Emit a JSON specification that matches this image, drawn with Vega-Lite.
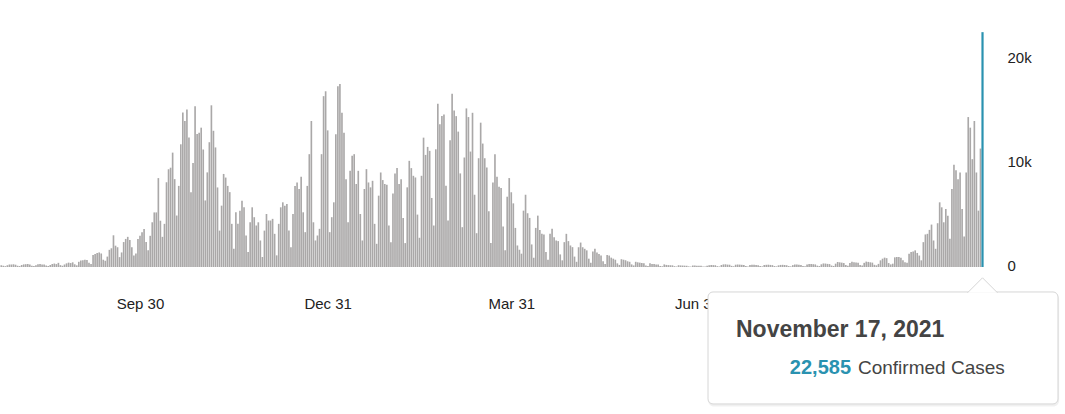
{
"$schema": "https://vega.github.io/schema/vega-lite/v6.json",
"width": 986, "height": 235,
"autosize": {"type": "none"},
"padding": {"left": 0, "top": 32, "right": 79, "bottom": 147},
"background": "white",
"config": {"view": {"stroke": null}, "font": "Liberation Sans"},
"datasets": {
"cases": [
{"date":"2020-07-24","cases":180},{"date":"2020-07-25","cases":110},{"date":"2020-07-26","cases":80},{"date":"2020-07-27","cases":170},{"date":"2020-07-28","cases":230},{"date":"2020-07-29","cases":240},{"date":"2020-07-30","cases":260},{"date":"2020-07-31","cases":220},
{"date":"2020-08-01","cases":120},{"date":"2020-08-02","cases":90},{"date":"2020-08-03","cases":190},{"date":"2020-08-04","cases":250},{"date":"2020-08-05","cases":270},{"date":"2020-08-06","cases":290},{"date":"2020-08-07","cases":230},{"date":"2020-08-08","cases":130},{"date":"2020-08-09","cases":90},{"date":"2020-08-10","cases":170},{"date":"2020-08-11","cases":260},{"date":"2020-08-12","cases":280},{"date":"2020-08-13","cases":250},{"date":"2020-08-14","cases":230},{"date":"2020-08-15","cases":150},{"date":"2020-08-16","cases":100},{"date":"2020-08-17","cases":190},{"date":"2020-08-18","cases":290},{"date":"2020-08-19","cases":330},{"date":"2020-08-20","cases":280},{"date":"2020-08-21","cases":400},{"date":"2020-08-22","cases":180},{"date":"2020-08-23","cases":120},{"date":"2020-08-24","cases":250},{"date":"2020-08-25","cases":350},{"date":"2020-08-26","cases":420},{"date":"2020-08-27","cases":380},{"date":"2020-08-28","cases":450},{"date":"2020-08-29","cases":260},{"date":"2020-08-30","cases":160},{"date":"2020-08-31","cases":500},
{"date":"2020-09-01","cases":620},{"date":"2020-09-02","cases":650},{"date":"2020-09-03","cases":700},{"date":"2020-09-04","cases":680},{"date":"2020-09-05","cases":420},{"date":"2020-09-06","cases":300},{"date":"2020-09-07","cases":1150},{"date":"2020-09-08","cases":1250},{"date":"2020-09-09","cases":1350},{"date":"2020-09-10","cases":1400},{"date":"2020-09-11","cases":1300},{"date":"2020-09-12","cases":700},{"date":"2020-09-13","cases":600},{"date":"2020-09-14","cases":1000},{"date":"2020-09-15","cases":1650},{"date":"2020-09-16","cases":1800},{"date":"2020-09-17","cases":3050},{"date":"2020-09-18","cases":2050},{"date":"2020-09-19","cases":1900},{"date":"2020-09-20","cases":950},{"date":"2020-09-21","cases":1400},{"date":"2020-09-22","cases":2400},{"date":"2020-09-23","cases":2700},{"date":"2020-09-24","cases":2900},{"date":"2020-09-25","cases":2600},{"date":"2020-09-26","cases":1900},{"date":"2020-09-27","cases":1100},{"date":"2020-09-28","cases":1300},{"date":"2020-09-29","cases":2700},{"date":"2020-09-30","cases":3000},
{"date":"2020-10-01","cases":3350},{"date":"2020-10-02","cases":3650},{"date":"2020-10-03","cases":2400},{"date":"2020-10-04","cases":1600},{"date":"2020-10-05","cases":3000},{"date":"2020-10-06","cases":4300},{"date":"2020-10-07","cases":5250},{"date":"2020-10-08","cases":5250},{"date":"2020-10-09","cases":8550},{"date":"2020-10-10","cases":4450},{"date":"2020-10-11","cases":2900},{"date":"2020-10-12","cases":4150},{"date":"2020-10-13","cases":8150},{"date":"2020-10-14","cases":9400},{"date":"2020-10-15","cases":9550},{"date":"2020-10-16","cases":11000},{"date":"2020-10-17","cases":8450},{"date":"2020-10-18","cases":4950},{"date":"2020-10-19","cases":7800},{"date":"2020-10-20","cases":11800},{"date":"2020-10-21","cases":14850},{"date":"2020-10-22","cases":14050},{"date":"2020-10-23","cases":15150},{"date":"2020-10-24","cases":12450},{"date":"2020-10-25","cases":7200},{"date":"2020-10-26","cases":10000},{"date":"2020-10-27","cases":15450},{"date":"2020-10-28","cases":12800},{"date":"2020-10-29","cases":12900},{"date":"2020-10-30","cases":13400},{"date":"2020-10-31","cases":11300},
{"date":"2020-11-01","cases":6400},{"date":"2020-11-02","cases":9100},{"date":"2020-11-03","cases":12000},{"date":"2020-11-04","cases":15550},{"date":"2020-11-05","cases":13100},{"date":"2020-11-06","cases":11500},{"date":"2020-11-07","cases":7650},{"date":"2020-11-08","cases":3500},{"date":"2020-11-09","cases":5900},{"date":"2020-11-10","cases":8950},{"date":"2020-11-11","cases":8600},{"date":"2020-11-12","cases":7800},{"date":"2020-11-13","cases":7200},{"date":"2020-11-14","cases":4150},{"date":"2020-11-15","cases":1750},{"date":"2020-11-16","cases":5260},{"date":"2020-11-17","cases":4150},{"date":"2020-11-18","cases":5420},{"date":"2020-11-19","cases":6380},{"date":"2020-11-20","cases":5740},{"date":"2020-11-21","cases":3030},{"date":"2020-11-22","cases":1440},{"date":"2020-11-23","cases":4300},{"date":"2020-11-24","cases":5740},{"date":"2020-11-25","cases":4790},{"date":"2020-11-26","cases":3990},{"date":"2020-11-27","cases":4300},{"date":"2020-11-28","cases":2550},{"date":"2020-11-29","cases":960},{"date":"2020-11-30","cases":3500},
{"date":"2020-12-01","cases":5100},{"date":"2020-12-02","cases":4470},{"date":"2020-12-03","cases":4470},{"date":"2020-12-04","cases":4630},{"date":"2020-12-05","cases":3190},{"date":"2020-12-06","cases":1120},{"date":"2020-12-07","cases":4150},{"date":"2020-12-08","cases":5740},{"date":"2020-12-09","cases":6220},{"date":"2020-12-10","cases":5900},{"date":"2020-12-11","cases":6060},{"date":"2020-12-12","cases":3500},{"date":"2020-12-13","cases":1910},{"date":"2020-12-14","cases":5100},{"date":"2020-12-15","cases":7800},{"date":"2020-12-16","cases":8130},{"date":"2020-12-17","cases":7500},{"date":"2020-12-18","cases":8680},{"date":"2020-12-19","cases":5260},{"date":"2020-12-20","cases":3350},{"date":"2020-12-21","cases":7800},{"date":"2020-12-22","cases":10850},{"date":"2020-12-23","cases":14040},{"date":"2020-12-24","cases":4300},{"date":"2020-12-25","cases":2550},{"date":"2020-12-26","cases":3030},{"date":"2020-12-27","cases":3670},{"date":"2020-12-28","cases":10850},{"date":"2020-12-29","cases":16430},{"date":"2020-12-30","cases":16900},{"date":"2020-12-31","cases":13140},
{"date":"2021-01-01","cases":3350},{"date":"2021-01-02","cases":4790},{"date":"2021-01-03","cases":6220},{"date":"2021-01-04","cases":12760},{"date":"2021-01-05","cases":17390},{"date":"2021-01-06","cases":17600},{"date":"2021-01-07","cases":14830},{"date":"2021-01-08","cases":12920},{"date":"2021-01-09","cases":8450},{"date":"2021-01-10","cases":4300},{"date":"2021-01-11","cases":9250},{"date":"2021-01-12","cases":10690},{"date":"2021-01-13","cases":10850},{"date":"2021-01-14","cases":7980},{"date":"2021-01-15","cases":9250},{"date":"2021-01-16","cases":5100},{"date":"2021-01-17","cases":2550},{"date":"2021-01-18","cases":7500},{"date":"2021-01-19","cases":9410},{"date":"2021-01-20","cases":8130},{"date":"2021-01-21","cases":7660},{"date":"2021-01-22","cases":8290},{"date":"2021-01-23","cases":4150},{"date":"2021-01-24","cases":2230},{"date":"2021-01-25","cases":6860},{"date":"2021-01-26","cases":9090},{"date":"2021-01-27","cases":8360},{"date":"2021-01-28","cases":7980},{"date":"2021-01-29","cases":7910},{"date":"2021-01-30","cases":3990},{"date":"2021-01-31","cases":2390},
{"date":"2021-02-01","cases":7080},{"date":"2021-02-02","cases":9000},{"date":"2021-02-03","cases":9510},{"date":"2021-02-04","cases":7980},{"date":"2021-02-05","cases":8450},{"date":"2021-02-06","cases":4720},{"date":"2021-02-07","cases":2300},{"date":"2021-02-08","cases":7660},{"date":"2021-02-09","cases":10210},{"date":"2021-02-10","cases":9510},{"date":"2021-02-11","cases":8770},{"date":"2021-02-12","cases":8610},{"date":"2021-02-13","cases":5040},{"date":"2021-02-14","cases":2810},{"date":"2021-02-15","cases":8770},{"date":"2021-02-16","cases":12440},{"date":"2021-02-17","cases":10780},{"date":"2021-02-18","cases":11550},{"date":"2021-02-19","cases":11170},{"date":"2021-02-20","cases":6640},{"date":"2021-02-21","cases":3990},{"date":"2021-02-22","cases":11320},{"date":"2021-02-23","cases":15690},{"date":"2021-02-24","cases":13720},{"date":"2021-02-25","cases":14510},{"date":"2021-02-26","cases":14670},{"date":"2021-02-27","cases":7820},{"date":"2021-02-28","cases":4470},
{"date":"2021-03-01","cases":12190},{"date":"2021-03-02","cases":16650},{"date":"2021-03-03","cases":15060},{"date":"2021-03-04","cases":14510},{"date":"2021-03-05","cases":13020},{"date":"2021-03-06","cases":9000},{"date":"2021-03-07","cases":3830},{"date":"2021-03-08","cases":10530},{"date":"2021-03-09","cases":15250},{"date":"2021-03-10","cases":14420},{"date":"2021-03-11","cases":11100},{"date":"2021-03-12","cases":14830},{"date":"2021-03-13","cases":6950},{"date":"2021-03-14","cases":3250},{"date":"2021-03-15","cases":10460},{"date":"2021-03-16","cases":13880},{"date":"2021-03-17","cases":11870},{"date":"2021-03-18","cases":10460},{"date":"2021-03-19","cases":9570},{"date":"2021-03-20","cases":5360},{"date":"2021-03-21","cases":2300},{"date":"2021-03-22","cases":8130},{"date":"2021-03-23","cases":10850},{"date":"2021-03-24","cases":8680},{"date":"2021-03-25","cases":7720},{"date":"2021-03-26","cases":7590},{"date":"2021-03-27","cases":3890},{"date":"2021-03-28","cases":1600},{"date":"2021-03-29","cases":6760},{"date":"2021-03-30","cases":8550},{"date":"2021-03-31","cases":7180},
{"date":"2021-04-01","cases":6120},{"date":"2021-04-02","cases":3760},{"date":"2021-04-03","cases":2070},{"date":"2021-04-04","cases":1660},{"date":"2021-04-05","cases":1280},{"date":"2021-04-06","cases":5420},{"date":"2021-04-07","cases":6950},{"date":"2021-04-08","cases":5170},{"date":"2021-04-09","cases":4720},{"date":"2021-04-10","cases":2170},{"date":"2021-04-11","cases":890},{"date":"2021-04-12","cases":3760},{"date":"2021-04-13","cases":4940},{"date":"2021-04-14","cases":3570},{"date":"2021-04-15","cases":3190},{"date":"2021-04-16","cases":3130},{"date":"2021-04-17","cases":1440},{"date":"2021-04-18","cases":700},{"date":"2021-04-19","cases":3190},{"date":"2021-04-20","cases":3670},{"date":"2021-04-21","cases":2870},{"date":"2021-04-22","cases":2550},{"date":"2021-04-23","cases":2490},{"date":"2021-04-24","cases":1210},{"date":"2021-04-25","cases":640},{"date":"2021-04-26","cases":2390},{"date":"2021-04-27","cases":3190},{"date":"2021-04-28","cases":2490},{"date":"2021-04-29","cases":2070},{"date":"2021-04-30","cases":1910},
{"date":"2021-05-01","cases":1000},{"date":"2021-05-02","cases":500},{"date":"2021-05-03","cases":1900},{"date":"2021-05-04","cases":2350},{"date":"2021-05-05","cases":1900},{"date":"2021-05-06","cases":1750},{"date":"2021-05-07","cases":1600},{"date":"2021-05-08","cases":800},{"date":"2021-05-09","cases":400},{"date":"2021-05-10","cases":1500},{"date":"2021-05-11","cases":1750},{"date":"2021-05-12","cases":1400},{"date":"2021-05-13","cases":1250},{"date":"2021-05-14","cases":1100},{"date":"2021-05-15","cases":550},{"date":"2021-05-16","cases":300},{"date":"2021-05-17","cases":1150},{"date":"2021-05-18","cases":1100},{"date":"2021-05-19","cases":900},{"date":"2021-05-20","cases":800},{"date":"2021-05-21","cases":700},{"date":"2021-05-22","cases":350},{"date":"2021-05-23","cases":200},{"date":"2021-05-24","cases":750},{"date":"2021-05-25","cases":700},{"date":"2021-05-26","cases":650},{"date":"2021-05-27","cases":550},{"date":"2021-05-28","cases":500},{"date":"2021-05-29","cases":250},{"date":"2021-05-30","cases":150},{"date":"2021-05-31","cases":500},
{"date":"2021-06-01","cases":450},{"date":"2021-06-02","cases":420},{"date":"2021-06-03","cases":380},{"date":"2021-06-04","cases":350},{"date":"2021-06-05","cases":150},{"date":"2021-06-06","cases":100},{"date":"2021-06-07","cases":350},{"date":"2021-06-08","cases":300},{"date":"2021-06-09","cases":280},{"date":"2021-06-10","cases":250},{"date":"2021-06-11","cases":230},{"date":"2021-06-12","cases":100},{"date":"2021-06-13","cases":70},{"date":"2021-06-14","cases":250},{"date":"2021-06-15","cases":200},{"date":"2021-06-16","cases":180},{"date":"2021-06-17","cases":170},{"date":"2021-06-18","cases":160},{"date":"2021-06-19","cases":80},{"date":"2021-06-20","cases":50},{"date":"2021-06-21","cases":170},{"date":"2021-06-22","cases":150},{"date":"2021-06-23","cases":140},{"date":"2021-06-24","cases":130},{"date":"2021-06-25","cases":120},{"date":"2021-06-26","cases":60},{"date":"2021-06-27","cases":40},{"date":"2021-06-28","cases":150},{"date":"2021-06-29","cases":140},{"date":"2021-06-30","cases":130},
{"date":"2021-07-01","cases":120},{"date":"2021-07-02","cases":110},{"date":"2021-07-03","cases":60},{"date":"2021-07-04","cases":40},{"date":"2021-07-05","cases":130},{"date":"2021-07-06","cases":170},{"date":"2021-07-07","cases":190},{"date":"2021-07-08","cases":180},{"date":"2021-07-09","cases":170},{"date":"2021-07-10","cases":80},{"date":"2021-07-11","cases":50},{"date":"2021-07-12","cases":190},{"date":"2021-07-13","cases":250},{"date":"2021-07-14","cases":260},{"date":"2021-07-15","cases":230},{"date":"2021-07-16","cases":220},{"date":"2021-07-17","cases":110},{"date":"2021-07-18","cases":70},{"date":"2021-07-19","cases":220},{"date":"2021-07-20","cases":240},{"date":"2021-07-21","cases":230},{"date":"2021-07-22","cases":210},{"date":"2021-07-23","cases":190},{"date":"2021-07-24","cases":100},{"date":"2021-07-25","cases":60},{"date":"2021-07-26","cases":200},{"date":"2021-07-27","cases":220},{"date":"2021-07-28","cases":210},{"date":"2021-07-29","cases":200},{"date":"2021-07-30","cases":180},{"date":"2021-07-31","cases":90},
{"date":"2021-08-01","cases":60},{"date":"2021-08-02","cases":190},{"date":"2021-08-03","cases":210},{"date":"2021-08-04","cases":220},{"date":"2021-08-05","cases":200},{"date":"2021-08-06","cases":180},{"date":"2021-08-07","cases":90},{"date":"2021-08-08","cases":60},{"date":"2021-08-09","cases":160},{"date":"2021-08-10","cases":200},{"date":"2021-08-11","cases":210},{"date":"2021-08-12","cases":190},{"date":"2021-08-13","cases":170},{"date":"2021-08-14","cases":90},{"date":"2021-08-15","cases":60},{"date":"2021-08-16","cases":180},{"date":"2021-08-17","cases":230},{"date":"2021-08-18","cases":240},{"date":"2021-08-19","cases":220},{"date":"2021-08-20","cases":200},{"date":"2021-08-21","cases":100},{"date":"2021-08-22","cases":70},{"date":"2021-08-23","cases":230},{"date":"2021-08-24","cases":280},{"date":"2021-08-25","cases":300},{"date":"2021-08-26","cases":270},{"date":"2021-08-27","cases":250},{"date":"2021-08-28","cases":130},{"date":"2021-08-29","cases":90},{"date":"2021-08-30","cases":260},{"date":"2021-08-31","cases":340},
{"date":"2021-09-01","cases":330},{"date":"2021-09-02","cases":300},{"date":"2021-09-03","cases":280},{"date":"2021-09-04","cases":140},{"date":"2021-09-05","cases":100},{"date":"2021-09-06","cases":320},{"date":"2021-09-07","cases":480},{"date":"2021-09-08","cases":450},{"date":"2021-09-09","cases":420},{"date":"2021-09-10","cases":380},{"date":"2021-09-11","cases":200},{"date":"2021-09-12","cases":130},{"date":"2021-09-13","cases":380},{"date":"2021-09-14","cases":500},{"date":"2021-09-15","cases":460},{"date":"2021-09-16","cases":430},{"date":"2021-09-17","cases":400},{"date":"2021-09-18","cases":200},{"date":"2021-09-19","cases":150},{"date":"2021-09-20","cases":400},{"date":"2021-09-21","cases":520},{"date":"2021-09-22","cases":490},{"date":"2021-09-23","cases":450},{"date":"2021-09-24","cases":420},{"date":"2021-09-25","cases":210},{"date":"2021-09-26","cases":160},{"date":"2021-09-27","cases":300},{"date":"2021-09-28","cases":640},{"date":"2021-09-29","cases":800},{"date":"2021-09-30","cases":900},
{"date":"2021-10-01","cases":850},{"date":"2021-10-02","cases":380},{"date":"2021-10-03","cases":250},{"date":"2021-10-04","cases":320},{"date":"2021-10-05","cases":930},{"date":"2021-10-06","cases":960},{"date":"2021-10-07","cases":950},{"date":"2021-10-08","cases":900},{"date":"2021-10-09","cases":650},{"date":"2021-10-10","cases":450},{"date":"2021-10-11","cases":400},{"date":"2021-10-12","cases":1270},{"date":"2021-10-13","cases":1450},{"date":"2021-10-14","cases":1500},{"date":"2021-10-15","cases":1600},{"date":"2021-10-16","cases":1350},{"date":"2021-10-17","cases":1100},{"date":"2021-10-18","cases":640},{"date":"2021-10-19","cases":2390},{"date":"2021-10-20","cases":3130},{"date":"2021-10-21","cases":3190},{"date":"2021-10-22","cases":3570},{"date":"2021-10-23","cases":4080},{"date":"2021-10-24","cases":2550},{"date":"2021-10-25","cases":1750},{"date":"2021-10-26","cases":4210},{"date":"2021-10-27","cases":6220},{"date":"2021-10-28","cases":5740},{"date":"2021-10-29","cases":4300},{"date":"2021-10-30","cases":5580},{"date":"2021-10-31","cases":4940},
{"date":"2021-11-01","cases":2710},{"date":"2021-11-02","cases":7500},{"date":"2021-11-03","cases":9830},{"date":"2021-11-04","cases":9310},{"date":"2021-11-05","cases":8450},{"date":"2021-11-06","cases":9090},{"date":"2021-11-07","cases":5580},{"date":"2021-11-08","cases":2930},{"date":"2021-11-09","cases":9090},{"date":"2021-11-10","cases":14420},{"date":"2021-11-11","cases":13400},{"date":"2021-11-12","cases":10370},{"date":"2021-11-13","cases":14040},{"date":"2021-11-14","cases":9090},{"date":"2021-11-15","cases":5420},{"date":"2021-11-16","cases":11390},{"date":"2021-11-17","cases":22585}
],
"tip": [{"day": "November 17, 2021", "count": 22585, "label": "Confirmed Cases"}]
},
"layer": [
{
"data": {"name": "cases"},
"mark": {"type": "bar", "opacity": 1},
"encoding": {
"x": {"field": "date", "type": "temporal",
"scale": {"type": "utc", "padding": 0, "domain": [{"year": 2020, "month": 7, "date": 23, "hours": 9, "utc": true}, {"year": 2021, "month": 11, "date": 18, "hours": 17, "utc": true}]},
"axis": {"title": null, "values": [{"year": 2020, "month": 9, "date": 30, "utc": true}, {"year": 2020, "month": 12, "date": 31, "utc": true}, {"year": 2021, "month": 3, "date": 31, "utc": true}, {"year": 2021, "month": 6, "date": 30, "utc": true}, {"year": 2021, "month": 9, "date": 30, "utc": true}],
"format": "%b %d", "labelFontSize": 15, "labelColor": "#222", "labelFont": "Liberation Sans", "ticks": false, "tickSize": 0, "domain": false, "grid": false, "labelPadding": 29, "labelOverlap": false, "labelFlush": false, "zindex": 0}},
"y": {"field": "cases", "type": "quantitative",
"scale": {"domain": [0, 22600], "nice": false, "zero": true, "padding": 0},
"axis": {"orient": "right", "title": null, "values": [0, 10000, 20000], "labelExpr": "datum.value === 0 ? '0' : format(datum.value / 1000, 'd') + 'k'", "labelFontSize": 15, "labelColor": "#222", "labelFont": "Liberation Sans", "ticks": false, "tickSize": 0, "domain": false, "grid": false, "labelPadding": 21, "labelAlign": "left", "labelBaseline": "middle", "labelOffset": -1.5, "zindex": 0}},
"size": {"condition": {"test": "time(datum.date) === utc(2021, 10, 17)", "value": 2.2}, "value": 1.65},
"color": {"condition": {"test": "time(datum.date) === utc(2021, 10, 17)", "value": "#2a92b0"}, "value": "#aaa8a8"}
}
},
{
"data": {"name": "tip"},
"mark": {"type": "rect", "fill": "#000000", "opacity": 0.06, "cornerRadius": 6},
"encoding": {
"x": {"datum": {"year": 2021, "month": 7, "date": 5, "hours": 10, "minutes": 25, "utc": true}, "type": "temporal"},
"x2": {"datum": {"year": 2021, "month": 12, "date": 24, "hours": 14, "utc": true}},
"y": {"datum": -2500, "type": "quantitative"},
"y2": {"datum": -13420}
}
},
{
"data": {"name": "tip"},
"mark": {"type": "rect", "fill": "#ffffff", "stroke": "#d6d6d6", "strokeWidth": 1, "cornerRadius": 5, "opacity": 1},
"encoding": {
"x": {"datum": {"year": 2021, "month": 7, "date": 5, "hours": 10, "minutes": 25, "utc": true}, "type": "temporal"},
"x2": {"datum": {"year": 2021, "month": 12, "date": 24, "utc": true}},
"y": {"datum": -2400, "type": "quantitative"},
"y2": {"datum": -13170}
}
},
{
"data": {"name": "tip"},
"mark": {"type": "point", "shape": "M -1 0.5 L 0 -0.5 L 1 0.5", "size": 900, "filled": true, "fill": "#ffffff", "stroke": "#d6d6d6", "strokeWidth": 1, "opacity": 1},
"encoding": {
"x": {"datum": {"year": 2021, "month": 11, "date": 17, "utc": true}, "type": "temporal"},
"y": {"datum": -1760, "type": "quantitative"}
}
},
{
"data": {"name": "tip"},
"mark": {"type": "text", "align": "left", "baseline": "alphabetic", "fontSize": 23, "fontWeight": "bold", "font": "Liberation Sans", "color": "#444444"},
"encoding": {
"x": {"datum": {"year": 2021, "month": 7, "date": 19, "hours": 3, "minutes": 45, "utc": true}, "type": "temporal"},
"y": {"datum": -6730, "type": "quantitative"},
"text": {"field": "day"}
}
},
{
"data": {"name": "tip"},
"mark": {"type": "text", "align": "right", "baseline": "alphabetic", "fontSize": 20, "fontWeight": "bold", "font": "Liberation Sans", "color": "#2a92b0"},
"encoding": {
"x": {"datum": {"year": 2021, "month": 9, "date": 13, "hours": 13, "utc": true}, "type": "temporal"},
"y": {"datum": -10290, "type": "quantitative"},
"text": {"field": "count", "type": "quantitative", "format": ","}
}
},
{
"data": {"name": "tip"},
"mark": {"type": "text", "align": "left", "baseline": "alphabetic", "fontSize": 19, "font": "Liberation Sans", "color": "#444444"},
"encoding": {
"x": {"datum": {"year": 2021, "month": 9, "date": 16, "hours": 23, "utc": true}, "type": "temporal"},
"y": {"datum": -10290, "type": "quantitative"},
"text": {"field": "label"}
}
}
]
}
